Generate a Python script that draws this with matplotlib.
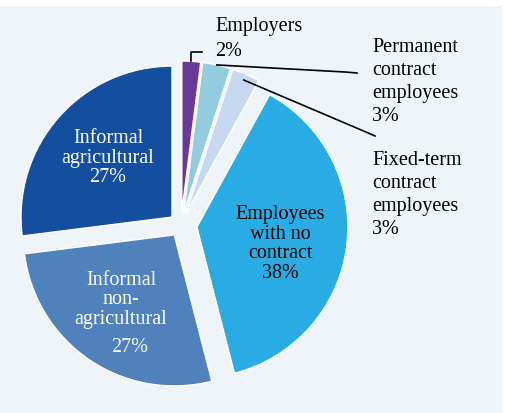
import numpy as np
import matplotlib
matplotlib.use("Agg")
import matplotlib.pyplot as plt

# data
labels = ["Employers", "Permanent contract employees", "Fixed-term contract employees",
          "Employees with no contract", "Informal non-agricultural", "Informal agricultural"]
shares = [2, 3, 3, 38, 27, 27]
colors = ["#6A3895", "#93CDDD", "#C6D9F0", "#29ACE3", "#4F81BD", "#144E9F"]
explode_px = [13, 13, 13, 16, 12, 12]

W, H = 505, 414
R = 151
bg = "#EFF4F9"

plt.rcParams["font.family"] = ["Liberation Serif", "DejaVu Serif"]

fig = plt.figure(figsize=(W / 100, H / 100), dpi=100)
fig.patch.set_facecolor("white")
ax = fig.add_axes([0, 0, 1, 1])

# explode is in data units here (1 unit = 1 pixel)
cx, cy = 181, H - 226
wedges, _ = ax.pie(shares, colors=colors, startangle=90, counterclock=False,
                   explode=explode_px, radius=R, center=(cx, cy),
                   wedgeprops=dict(edgecolor="white", linewidth=1.0))
for w in wedges:
    w.set_zorder(2)

# pie() resets the limits, so set them afterwards
ax.set_xlim(0, W)
ax.set_ylim(0, H)
ax.set_aspect("equal")
ax.axis("off")

# light panel behind the chart (white strip at top / right)
ax.add_patch(plt.Rectangle((0, 0), W - 3, H - 7, facecolor=bg, edgecolor="none", zorder=0))


def edge_point(w, frac=1.0):
    mid = np.deg2rad((w.theta1 + w.theta2) / 2)
    x0, y0 = w.center
    return x0 + frac * w.r * np.cos(mid), y0 + frac * w.r * np.sin(mid)


fs = 14.5

# Employers bracket
px, py = edge_point(wedges[0])
ax.plot([px, px, px + 11], [py, H - 53, H - 53], color="black", lw=1.2, zorder=3)
ax.text(215, H - 26, "Employers", fontsize=fs, ha="left", va="center")
ax.text(215, H - 52, f"{shares[0]}%", fontsize=fs, ha="left", va="center")

# Permanent leader
px, py = edge_point(wedges[1])
ax.plot([px, 345, 357], [py, H - 73, H - 74], color="black", lw=1.2, zorder=3)
ax.text(372, H - 82, f"Permanent\ncontract\nemployees\n{shares[1]}%", fontsize=fs,
        ha="left", va="center", linespacing=1.3)

# Fixed-term leader
px, py = edge_point(wedges[2], 0.96)
ax.plot([px, 366, 375], [py, H - 133, H - 137], color="black", lw=1.2, zorder=3)
ax.text(372, H - 195, f"Fixed-term\ncontract\nemployees\n{shares[2]}%", fontsize=fs,
        ha="left", va="center", linespacing=1.3)

# inside labels
ax.text(280, H - 244, f"Employees\nwith no\ncontract\n{shares[3]}%", fontsize=fs,
        ha="center", va="center", linespacing=1.05, color="black", zorder=4)
ax.text(121, H - 300, "Informal\nnon-\nagricultural", fontsize=fs,
        ha="center", va="center", linespacing=1.05, color="white", zorder=4)
ax.text(130, H - 348, f"{shares[4]}%", fontsize=fs,
        ha="center", va="center", color="white", zorder=4)
ax.text(108, H - 158, f"Informal\nagricultural\n{shares[5]}%", fontsize=fs,
        ha="center", va="center", linespacing=1.05, color="white", zorder=4)

fig.savefig("out.png", dpi=100)
